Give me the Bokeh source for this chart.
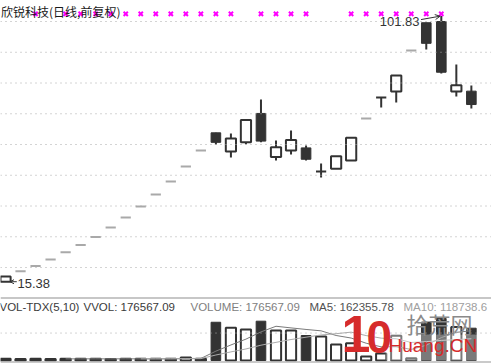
import math
from bokeh.plotting import figure
from bokeh.layouts import column
from bokeh.models import Range1d, Span, Label, Arrow, OpenHead, ColumnDataSource, BoxAnnotation
from bokeh.core.properties import value
from bokeh.embed import file_html
from bokeh.resources import INLINE

NAN = float("nan")

TITLE = "欣锐科技(日线,前复权)"
OPEN = [15.38, 18.80, 20.50, 22.60, 24.95, 27.30, 29.90, 33.00, 36.30, 39.85, 43.75, 48.00, 52.85, 58.05,
        63.80, 57.70, 60.75, 70.10, 55.90, 58.05, 58.90, 51.20, 52.10, 54.80, 68.45, 75.30, 77.20, 90.60,
        99.60, 100.00, 77.25, 77.35]
HIGH = [17.09, 18.80, 20.50, 22.60, 24.95, 27.30, 29.90, 33.00, 36.30, 39.85, 43.75, 48.00, 52.85, 58.05,
        63.80, 63.60, 68.00, 74.60, 61.30, 64.55, 59.70, 53.80, 56.20, 62.20, 68.45, 75.30, 82.40, 90.60,
        99.60, 101.83, 86.00, 79.20]
LOW = [15.38, 18.80, 20.50, 22.60, 24.95, 27.30, 29.90, 33.00, 36.30, 39.85, 43.75, 48.00, 52.85, 58.05,
       60.00, 55.80, 60.10, 60.75, 54.80, 56.75, 54.80, 49.30, 52.10, 54.80, 68.45, 72.00, 73.65, 90.60,
       90.90, 83.10, 75.60, 71.70]
CLOSE = [17.09, 18.80, 20.50, 22.60, 24.95, 27.30, 29.90, 33.00, 36.30, 39.85, 43.75, 48.00, 52.85, 58.05,
         60.70, 61.95, 68.00, 61.10, 59.10, 61.50, 55.20, 51.20, 56.20, 62.20, 68.45, 75.30, 82.40, 90.60,
         92.90, 83.50, 79.30, 73.00]
VOLUME = [9000, 8500, 9000, 8800, 9200, 9500, 9000, 8700, 9300, 9100, 9600, 10000, 17000, 10000,
          209000, 178700, 169400, 214800, 164000, 164000, 136600, 131200, 87500, 94600, 22000, 38000,
          135000, 12600, 210000, 230000, 182600, 176567.09]
MA5 = [NAN, NAN, NAN, NAN, 8900, 9000, 9100, 9040, 9140, 9120, 9140, 9340, 11000, 11140, 51120, 84940,
       116820, 156380, 187180, 178180, 169760, 162120, 136660, 122780, 94380, 74660, 75420, 60440, 83520,
       125120, 154040, 162355.78]
MA10 = [NAN, NAN, NAN, NAN, NAN, NAN, NAN, NAN, NAN, 9010, 9070, 9220, 10020, 10140, 30120, 47040, 63080,
        83690, 99160, 114650, 127350, 139470, 146520, 154980, 136280, 122210, 118770, 98550, 103150,
        109750, 114350, 118738.6]
SIGNAL_DAYS = [2, 4, 5, 6, 7, 8, 9, 10, 11, 12, 13, 14, 15, 17, 18, 19, 20, 23, 24, 25, 26, 27, 28, 29]
SIGNAL_LEVEL = 102.5
PRICE_GRID = [20, 30, 40, 50, 60, 70, 80, 90, 100]
VOL_GRID = [150000]
HEADER = ["VOL-TDX(5,10)", "VVOL: 176567.09", "VOLUME: 176567.09", "MA5: 162355.78", "MA10: 118738.6"]
WATERMARK = ["1", "0", "拾荒网", "Huang.CN"]

DAYS = list(range(len(OPEN)))

W = 491
H1 = 296
H2 = 68
DARK = "#333333"
RED = "#d62b2b"
BW = 0.68

xr = Range1d(-0.333, 32.34)


def base_fig(h, yr):
    f = figure(width=W, height=h, x_range=xr, y_range=yr, output_backend="svg",
               toolbar_location=None, min_border=0, x_axis_location=None, y_axis_location=None)
    f.grid.visible = False
    f.outline_line_color = None
    f.background_fill_color = "white"
    f.border_fill_color = "white"
    return f


def sub(mask, **cols):
    return ColumnDataSource({k: [v[i] for i in DAYS if mask[i]] for k, v in cols.items()})


# ---------------- price panel ----------------
p1 = base_fig(H1, Range1d(10.57, 106.83))
for g in PRICE_GRID:
    p1.add_layout(Span(location=g, dimension="width", line_color="#a8a8a8", line_width=1, line_dash="1 4"))

flat = [h == l for h, l in zip(HIGH, LOW)]
up = [(c >= o) and not f for o, c, f in zip(OPEN, CLOSE, flat)]
down = [(c < o) and not f for o, c, f in zip(OPEN, CLOSE, flat)]
top = [max(o, c) for o, c in zip(OPEN, CLOSE)]
bot = [min(o, c) for o, c in zip(OPEN, CLOSE)]
solid = [not f for f in flat]

p1.segment(x0="x", y0="h", x1="x", y1="l", source=sub(solid, x=DAYS, h=HIGH, l=LOW),
           line_color=DARK, line_width=2)
p1.vbar(x="x", top="t", bottom="b", width=BW, source=sub(up, x=DAYS, t=top, b=bot),
        fill_color="white", line_color=DARK, line_width=2)
p1.vbar(x="x", top="t", bottom="b", width=BW - 0.04, source=sub(down, x=DAYS, t=top, b=bot),
        fill_color=DARK, line_color=DARK, line_width=1)
p1.rect(x="x", y="y", width=BW, height=2, height_units="screen", source=sub(flat, x=DAYS, y=CLOSE),
        fill_color="#a9a9a9", line_color=None)

p1.scatter(x=SIGNAL_DAYS, y=[SIGNAL_LEVEL] * len(SIGNAL_DAYS), marker="x", size=6,
           line_color="#ff00ff", line_width=2)

p1.text(x=[-0.30], y=[103.2], text=[TITLE], text_font=value("Noto Sans CJK SC"),
        text_font_size="12px", text_color="#1a1a1a", text_baseline="alphabetic", text_align="left")

hi = HIGH.index(max(HIGH))
p1.text(x=[hi - 1.45], y=[HIGH[hi] - 1.8], text=["%.2f" % HIGH[hi]], text_font=value("Liberation Sans"),
        text_font_size="13px", text_color=DARK, text_baseline="middle", text_align="right")
p1.add_layout(Arrow(end=OpenHead(size=5, line_color=DARK, line_width=1), x_start=hi - 1.35,
                    y_start=HIGH[hi] - 1.2, x_end=hi - 0.08, y_end=HIGH[hi] - 0.1,
                    line_color=DARK, line_width=1))

lo = LOW.index(min(LOW))
p1.text(x=[lo + 0.8], y=[LOW[lo] - 0.5], text=["%.2f" % LOW[lo]], text_font=value("Liberation Sans"),
        text_font_size="13px", text_color=DARK, text_baseline="middle", text_align="left")
p1.add_layout(Arrow(end=OpenHead(size=4, line_color=DARK, line_width=1), x_start=lo + 0.75,
                    y_start=LOW[lo], x_end=lo + 0.3, y_end=LOW[lo], line_color=DARK, line_width=1))

# ---------------- volume panel ----------------
VK = 5466.0
p2 = base_fig(H2, Range1d(-4 * VK, 64 * VK))
p2.add_layout(Span(location=62.5 * VK, dimension="width", line_color="#b4b4b4", line_width=1.5))
p2.add_layout(Span(location=-1.5 * VK, dimension="width", line_color="#b8b8b8", line_width=1.5))
for g in VOL_GRID:
    p2.add_layout(Span(location=g, dimension="width", line_color="#a8a8a8", line_width=1, line_dash="1 4"))

vup = [c >= o for o, c in zip(OPEN, CLOSE)]
vdn = [not u for u in vup]
zeros = [0] * len(DAYS)
p2.vbar(x="x", top="t", bottom="b", width=BW, source=sub(vup, x=DAYS, t=VOLUME, b=zeros),
        fill_color="white", line_color=DARK, line_width=2)
p2.vbar(x="x", top="t", bottom="b", width=BW - 0.04, source=sub(vdn, x=DAYS, t=VOLUME, b=zeros),
        fill_color=DARK, line_color=DARK, line_width=1)
p2.line(x=DAYS, y=MA5, line_color="#7a7a7a", line_width=1)
p2.line(x=DAYS, y=MA10, line_color="#ababab", line_width=1)

hx = [-1, 83, 190, 309, 403]
hc = ["#3a3a3a", "#3a3a3a", "#808080", "#505050", "#a0a0a0"]
for t, x, c in zip(HEADER, hx, hc):
    p2.add_layout(Label(x=x, y=364 - 306, x_units="screen", y_units="screen", text=t,
                        text_font="Liberation Sans", text_font_size="11.5px", text_color=c,
                        text_baseline="middle", text_align="left"))

# watermark
p2.add_layout(BoxAnnotation(left=25.3, right=31.5, bottom=0, top=26 * VK,
                            fill_color="white", fill_alpha=0.35, line_color=None))
p2.add_layout(Label(x=341, y=364 - 333.5, x_units="screen", y_units="screen", text=WATERMARK[0],
                    text_font="Liberation Sans", text_font_style="bold", text_font_size="52px",
                    text_color=RED, text_baseline="middle"))
p2.add_layout(Label(x=366, y=364 - 336, x_units="screen", y_units="screen", text=WATERMARK[1],
                    text_font="Liberation Sans", text_font_style="bold", text_font_size="46px",
                    text_color=RED, text_baseline="middle"))
p2.add_layout(Label(x=406, y=364 - 322.5, x_units="screen", y_units="screen", text=WATERMARK[2],
                    text_font="Noto Sans CJK SC", text_font_size="22px", text_color="#8a8a8a",
                    text_baseline="middle"))
p2.add_layout(Label(x=388, y=364 - 344.5, x_units="screen", y_units="screen", text=WATERMARK[3],
                    text_font="Liberation Sans", text_font_size="19px", text_color=RED,
                    text_baseline="middle"))

layout = column(p1, p2, spacing=0)
open("out.html", "w").write(file_html(layout, INLINE, title="欣锐科技"))
